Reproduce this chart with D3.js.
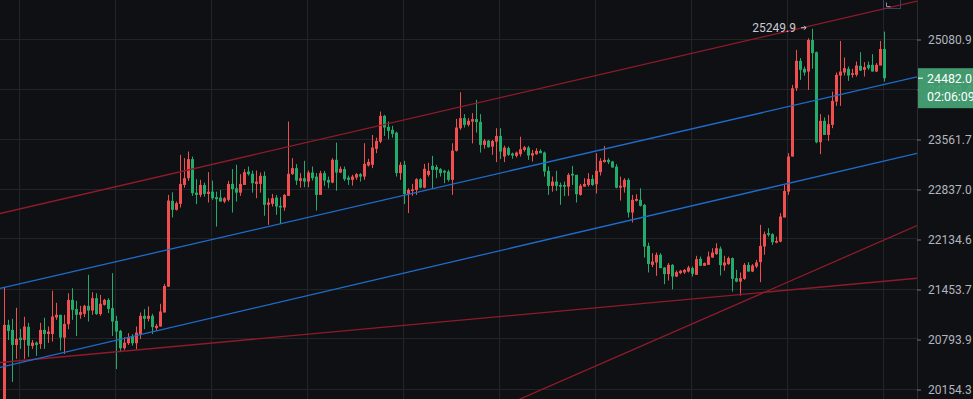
<!DOCTYPE html>
<html>
<head>
<meta charset="utf-8">
<script src="https://cdn.jsdelivr.net/npm/d3@7"></script>
<style>
  html, body { margin: 0; padding: 0; background: #0f1013; overflow: hidden; }
  svg { display: block; font-family: Roboto, "Noto Sans", sans-serif; }
</style>
</head>
<body>
<svg id="chart"></svg>
<script>
// hourly candles, red = up, green = down
const openPx = [19900,20985,20919,20723,20818,20787,20959,20710,20753,20736,20919,20866,20866,21082,21117,20818,20994,21315,21193,21117,
  21130,21236,21174,21338,21127,21249,21315,21206,21038,20906,20681,20745,20840,20745,20863,21104,21064,21104,20942,20963,
  21148,21492,22676,22549,22633,22902,22999,23275,22792,22760,22902,22774,22806,22728,22722,22666,22690,22917,22854,22792,
  22902,23095,23062,22917,22917,23033,22619,22633,22722,22605,22581,22746,23057,23144,22960,22999,22950,23080,23022,22760,
  23072,22975,22936,23265,23080,23130,23008,22975,23008,23057,23022,23182,23192,23424,23530,23913,23749,23704,23663,23072,
  23192,22774,22816,22830,22985,22863,23047,23177,23160,23130,23105,23095,22975,23395,23729,23879,23778,23828,23864,23823,
  23482,23545,23457,23530,23614,23312,23434,23356,23322,23347,23409,23443,23327,23347,23395,23370,23105,22888,22950,22902,
  22902,22878,23062,23047,22760,22878,22902,22989,22912,23086,23231,23264,23240,23167,22863,22869,22975,22511,22676,22690,
  22619,22046,21787,21819,21924,21751,21661,21787,21628,21674,21683,21696,21742,21651,21869,21774,21787,21887,21933,22009,
  21778,21797,21879,21606,21560,21597,21787,21696,21764,21824,22037,22222,22208,22091,22105,22441,22806,23312,24328,24749,
  24626,24584,25073,24883,23521,23838,23629,23778,24127,24522,24569,24626,24533,24533,24672,24610,24687,24687,24584,24677,
  24933];
const highPx = [21488,21051,21064,21210,20933,21091,21012,20787,20768,21012,21078,20963,21438,21276,21117,21117,21404,21470,21302,21236,
  21249,21651,21417,21404,21381,21329,21338,21674,21104,20919,20823,20876,20863,20963,21148,21193,21227,21130,20998,21263,
  21529,22760,22798,22666,23337,23289,23385,23312,22985,22975,22936,23086,22965,22806,22830,22728,22960,23130,23192,23057,
  23130,23167,23109,23109,23080,23095,22713,22774,22760,22728,22774,23828,23289,23202,23072,23250,23109,23167,23072,23105,
  23105,23022,23289,23516,23167,23167,23037,23047,23072,23072,23507,23279,23629,23589,23977,23928,23828,23764,23678,23231,
  23250,22854,22917,22999,22999,23206,23221,23322,23192,23144,23120,23120,23507,23868,24267,23938,23879,23953,24152,23938,
  23569,23555,23555,23729,23729,23472,23457,23370,23385,23603,23467,23467,23409,23434,23419,23385,23167,23022,23105,22936,
  22950,23072,23177,23047,22917,22999,23072,23047,23361,23289,23467,23289,23250,23202,23022,22999,22999,22760,22770,22854,
  22633,22091,21947,21955,21947,21756,21811,21797,21710,21719,21729,21774,21764,21910,21900,21819,21968,22015,22083,22037,
  21910,21900,21887,21719,21683,21811,21824,21797,21855,22338,22244,22292,22222,22174,22503,22902,23362,24379,24919,24791,
  24661,25100,25249.9,24893,23938,23888,23928,24276,24569,25059,24800,24661,24626,24738,24883,24729,24738,24853,24714,25059,
  25205];
const lowPx = [19826,20787,20250,20544,20672,20544,20570,20672,20583,20672,20672,20749,20768,21051,20651,20608,20928,21051,20840,21064,
  21087,21029,21117,21117,21104,21240,21140,20840,20413,20638,20659,20723,20714,20668,20801,20928,21029,20866,20910,20963,
  21148,21488,22441,22539,22581,22863,22960,22746,22629,22728,22736,22652,22690,22314,22666,22643,22666,22511,22666,22746,
  22902,23037,22792,22713,22792,22465,22338,22595,22479,22352,22535,22746,23047,22902,22863,22869,22869,22965,22539,22760,
  22888,22854,22927,22820,23072,22960,22902,22892,22975,22950,22975,23167,23144,23361,23506,23614,23565,23589,23022,22975,
  22629,22503,22747,22760,22854,22854,23022,22844,22999,23022,22927,22950,22760,23385,23704,23738,23753,23505,23663,23370,
  23428,23443,23337,23231,23275,23231,23322,23279,23298,23312,23385,23264,23240,23337,23361,23022,22760,22806,22816,22619,
  22746,22746,22902,22652,22750,22878,22878,22888,22781,23037,23225,23202,23153,22854,22680,22792,22441,22371,22666,22595,
  21887,21683,21756,21638,21742,21525,21574,21456,21620,21661,21665,21683,21628,21651,21774,21774,21787,21883,21924,21642,
  21706,21787,21425,21552,21372,21583,21696,21688,21742,21552,21924,22174,22060,22083,22097,22441,22760,23312,24287,24456,
  24522,24302,24626,23506,23347,23629,23540,23729,24062,24062,24522,24441,24491,24507,24595,24507,24610,24584,24575,24677,
  24430];
const closePx = [20985,20906,20723,20800,20787,20963,20714,20753,20723,20919,20866,20897,21095,21117,20818,20998,21315,21183,21117,21153,
  21236,21174,21338,21127,21263,21315,21196,21029,20897,20681,20753,20823,20745,20884,21104,21064,21104,20955,20972,21161,
  21501,22680,22549,22643,22917,22999,23275,22784,22760,22902,22774,22806,22713,22699,22666,22713,22917,22844,22792,22917,
  23086,23057,22927,22950,23033,22619,22652,22713,22595,22581,22760,23062,23144,22965,22999,22950,23080,22999,22760,23072,
  22965,22936,23265,23080,23134,22985,22975,23022,23057,23022,23206,23235,23443,23540,23913,23738,23689,23644,23072,23192,
  22774,22830,22840,22985,22863,23134,23105,23120,23120,23072,23080,22975,23399,23738,23879,23778,23838,23864,23819,23482,
  23545,23448,23540,23614,23385,23443,23337,23327,23370,23419,23448,23327,23361,23395,23361,23095,22888,22950,22888,22878,
  22878,23047,23037,22770,22892,22917,22989,22902,23105,23250,23264,23231,23153,22863,22892,22975,22511,22690,22703,22605,
  22037,21797,21832,21924,21742,21661,21787,21628,21688,21706,21719,21751,21665,21865,21774,21811,21900,21955,22015,21783,
  21819,21879,21597,21560,21606,21787,21696,21778,21819,22046,22208,22198,22097,22114,22455,22816,23312,24328,24749,24610,
  24569,25073,24868,23521,23838,23629,23789,24138,24533,24584,24636,24522,24559,24677,24599,24652,24636,24584,24687,24933,
  24482.0];

const priceTicks = [20154.3, 20793.9, 21453.7, 22134.6, 22837.0, 23561.7, 24309.4, 25080.9];
const dayStarts = [4, 28, 52, 76, 100, 124, 148, 172, 196, 220];
const lastPrice = 24482.0;
const countdown = "02:06:09";
const maxIndex = 202;

// drawn lines: [index, price, index, price]
const resistanceLine = [0, 22510, 220, 25566];
const channelTop = [0, 21480, 220, 24385];
const channelBottom = [0, 20447, 220, 23247];
const supportFlat = [0, 20502, 220, 21564];
const supportSteep = [160, 20724, 220, 22127];

const width = 973, height = 399, plotRight = 917;
const upColor = "#ef4f4f", downColor = "#22ab6a";
const gridColor = "#232428";

const x = d3.scaleLinear().domain([0, 1]).range([4, 8]);
const y = d3.scaleLog().domain([20154.3, 25080.9]).range([389.5, 39.5]);

const svg = d3.select("#chart")
    .attr("width", width)
    .attr("height", height)
    .attr("viewBox", [0, 0, width, height]);

svg.append("rect").attr("width", width).attr("height", height).attr("fill", "#0f1013");

const plot = svg.append("g");
plot.append("clipPath").attr("id", "plotclip")
  .append("rect").attr("width", plotRight).attr("height", height);

// grid
plot.append("g")
  .selectAll("line")
  .data(priceTicks)
  .join("line")
    .attr("x1", 0).attr("x2", plotRight)
    .attr("y1", d => Math.round(y(d)) - 0.5)
    .attr("y2", d => Math.round(y(d)) - 0.5)
    .attr("stroke", gridColor);
plot.append("g")
  .selectAll("line")
  .data(dayStarts)
  .join("line")
    .attr("x1", d => Math.round(x(d)) - 0.5)
    .attr("x2", d => Math.round(x(d)) - 0.5)
    .attr("y1", 0).attr("y2", height)
    .attr("stroke", gridColor);

const I = d3.range(openPx.length);
const candles = plot.append("g");
candles.selectAll("line")
  .data(I)
  .join("line")
    .attr("x1", i => x(i) + 0.5)
    .attr("x2", i => x(i) + 0.5)
    .attr("y1", i => y(highPx[i]))
    .attr("y2", i => y(lowPx[i]))
    .attr("stroke", i => closePx[i] >= openPx[i] ? upColor : downColor);
candles.selectAll("rect")
  .data(I)
  .join("rect")
    .attr("x", i => x(i) - 1)
    .attr("width", 3)
    .attr("y", i => y(Math.max(openPx[i], closePx[i])))
    .attr("height", i => Math.max(1, y(Math.min(openPx[i], closePx[i])) - y(Math.max(openPx[i], closePx[i]))))
    .attr("fill", i => closePx[i] >= openPx[i] ? upColor : downColor);

// trend lines, extended across the pane
function extend([i0, p0, i1, p1]) {
  const ax = x(i0), ay = y(p0), bx = x(i1), by = y(p1);
  const k = (by - ay) / (bx - ax);
  return [0, ay - k * ax, plotRight, ay + k * (plotRight - ax)];
}
const lines = [
  {seg: resistanceLine, color: "#8e1b2c"},
  {seg: supportFlat, color: "#8e1b2c"},
  {seg: supportSteep, color: "#8e1b2c"},
  {seg: channelTop, color: "#1f6ccc"},
  {seg: channelBottom, color: "#1f6ccc"}
];
plot.append("g").attr("clip-path", "url(#plotclip)")
  .selectAll("line")
  .data(lines)
  .join("line")
    .attr("x1", d => extend(d.seg)[0])
    .attr("y1", d => extend(d.seg)[1])
    .attr("x2", d => extend(d.seg)[2])
    .attr("y2", d => extend(d.seg)[3])
    .attr("stroke", d => d.color)
    .attr("stroke-width", 1.3);

// high marker
const hx = x(maxIndex), hy = y(highPx[maxIndex]);
plot.append("text")
    .attr("x", hx - 16).attr("y", hy + 3)
    .attr("text-anchor", "end")
    .attr("fill", "#c9cbd1")
    .attr("font-size", 12)
    .text(d3.format(".1f")(highPx[maxIndex]));
plot.append("path")
    .attr("d", `M${hx - 11},${hy - 1}h5m-2,-2l2,2l-2,2`)
    .attr("fill", "none")
    .attr("stroke", "#c9cbd1")
    .attr("stroke-width", 1);

// small box top right
plot.append("rect")
    .attr("x", 883.5).attr("y", -1.5).attr("width", 17).attr("height", 10)
    .attr("fill", "none").attr("stroke", "#3c3f63");
plot.append("path")
    .attr("d", "M886.5,2.5v4h4")
    .attr("fill", "none").attr("stroke", "#8a8da0");

// price axis
svg.append("line")
    .attr("x1", plotRight + 0.5).attr("x2", plotRight + 0.5)
    .attr("y1", 0).attr("y2", height)
    .attr("stroke", "#2a2c31");

svg.append("g")
    .attr("transform", `translate(${plotRight},0)`)
    .call(d3.axisRight(y).tickValues(priceTicks).tickSize(4).tickPadding(7).tickFormat(d3.format(".1f")))
    .call(g => g.select(".domain").remove())
    .call(g => g.selectAll(".tick line").attr("stroke", "#6f727b"))
    .call(g => g.selectAll(".tick text")
        .attr("fill", "#b2b5be")
        .attr("font-size", 12)
        .attr("font-family", "Roboto, sans-serif"));

// last price label (covers the 24309.4 tick, which shows through faintly)
const ly = y(lastPrice);
const tag = svg.append("g");
tag.append("rect")
    .attr("x", plotRight + 1).attr("y", ly - 10)
    .attr("width", width - plotRight).attr("height", 40)
    .attr("fill", "#45a474")
    .attr("fill-opacity", 0.93);
tag.append("line")
    .attr("x1", plotRight + 1).attr("x2", plotRight + 6)
    .attr("y1", ly).attr("y2", ly)
    .attr("stroke", "#ffffff");
tag.append("text")
    .attr("x", plotRight + 10).attr("y", ly + 4.5)
    .attr("fill", "#ffffff")
    .attr("font-size", 12.4)
    .text(d3.format(".1f")(lastPrice));
tag.append("text")
    .attr("x", plotRight + 10).attr("y", ly + 23)
    .attr("fill", "#ffffff")
    .attr("font-size", 12.4)
    .text(countdown);
</script>
</body>
</html>
